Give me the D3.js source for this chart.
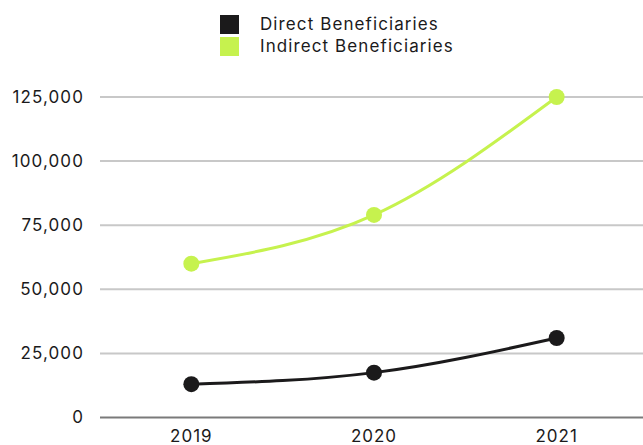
<!DOCTYPE html>
<html>
<head>
<meta charset="utf-8">
<script src="https://cdn.jsdelivr.net/npm/d3@7"></script>
<style>
  html, body { margin: 0; padding: 0; background: #fff; }
  svg { display: block; font-family: Inter, "DejaVu Sans", sans-serif; }
</style>
</head>
<body>
<svg id="chart" width="643" height="445"></svg>
<script>
// Beneficiaries reached per year
const years = ["2019", "2020", "2021"];
const directValues = [13000, 17500, 31000];
const indirectValues = [60000, 79000, 125000];
const yTicks = [0, 25000, 50000, 75000, 100000, 125000];
const seriesNames = ["Direct Beneficiaries", "Indirect Beneficiaries"];
const seriesColors = ["#1b1a1b", "#c6f24e"];

const width = 643, height = 445;
const margin = { top: 97, right: 0, bottom: 27, left: 100 };

const svg = d3.select("#chart");

const x = d3.scaleBand()
  .domain(years)
  .range([margin.left, width + 5]);

const y = d3.scaleLinear()
  .domain([0, 125000])
  .range([height - margin.bottom - 0.5, margin.top]);

// Horizontal gridlines
svg.append("g")
  .selectAll("line")
  .data(yTicks)
  .join("line")
  .attr("x1", margin.left)
  .attr("x2", width)
  .attr("y1", d => y(d))
  .attr("y2", d => y(d))
  .attr("stroke", d => d === 0 ? "#7a7a7a" : "#c8c8c8")
  .attr("stroke-width", 2);

// Y axis labels
const fmt = d3.format(",");
svg.append("g")
  .selectAll("text")
  .data(yTicks)
  .join("text")
  .attr("x", 84)
  .attr("y", d => y(d))
  .attr("dy", "0.35em")
  .attr("text-anchor", "end")
  .attr("font-size", 17)
  .attr("letter-spacing", 1.1)
  .attr("fill", "#1b1a1b")
  .text(d => fmt(d));

// X axis labels
svg.append("g")
  .selectAll("text")
  .data(years)
  .join("text")
  .attr("x", d => x(d) + x.bandwidth() / 2)
  .attr("y", 436)
  .attr("dy", "0.35em")
  .attr("text-anchor", "middle")
  .attr("font-size", 17)
  .attr("letter-spacing", 1)
  .attr("fill", "#1b1a1b")
  .text(d => d);

// Lines and markers
const series = [directValues, indirectValues];
const line = d3.line()
  .x((d, i) => x(years[i]) + x.bandwidth() / 2)
  .y(d => y(d))
  .curve(d3.curveMonotoneX);

// draw indirect first, direct on top
[1, 0].forEach(s => {
  const g = svg.append("g");
  g.append("path")
    .datum(series[s])
    .attr("d", line)
    .attr("fill", "none")
    .attr("stroke", seriesColors[s])
    .attr("stroke-width", 3);
  g.selectAll("circle")
    .data(series[s])
    .join("circle")
    .attr("cx", (d, i) => x(years[i]) + x.bandwidth() / 2)
    .attr("cy", d => y(d))
    .attr("r", 8)
    .attr("fill", seriesColors[s]);
});

// Legend
const legend = svg.append("g");
seriesNames.forEach((name, i) => {
  const row = legend.append("g").attr("transform", `translate(220, ${15 + i * 22})`);
  row.append("rect")
    .attr("width", 19)
    .attr("height", 19)
    .attr("fill", seriesColors[i]);
  row.append("text")
    .attr("x", 40)
    .attr("y", 9.5)
    .attr("dy", "0.35em")
    .attr("font-size", 17)
    .attr("letter-spacing", 1.1)
    .attr("fill", "#1b1a1b")
    .text(name);
});
</script>
</body>
</html>
